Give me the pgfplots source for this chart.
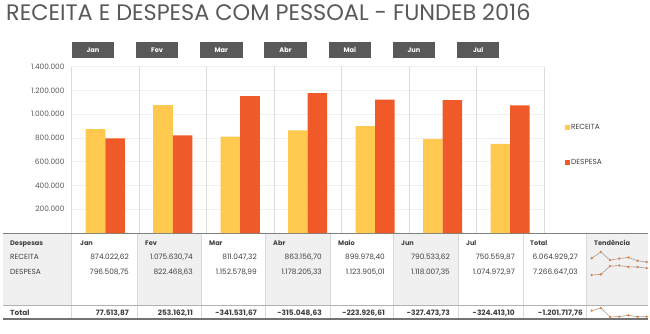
\documentclass[border=0pt]{standalone}
\usepackage{pgfplots}
\pgfplotsset{compat=1.18}
\usepackage{fontspec}
\setmainfont{Poppins}
\definecolor{rec}{HTML}{FFC94F}
\definecolor{des}{HTML}{F05A28}
\definecolor{txt}{HTML}{404040}
\definecolor{slicer}{HTML}{595959}
\definecolor{band}{HTML}{F0F0F0}
\definecolor{spk}{HTML}{ED7D31}
\begin{document}
\begin{tikzpicture}
\begin{scope}[x=1pt,y=-1pt]
\path[use as bounding box] (0,0) rectangle (650,333);
\fill[white] (0,0) rectangle (650,333);
\node[anchor=base west, inner sep=0pt, font=\fontsize{22.4}{22.4}\selectfont, text=slicer] at (6,20.7) {RECEITA E DESPESA COM PESSOAL - FUNDEB 2016};
% slicer buttons
\foreach \m [count=\i from 0] in {Jan,Fev,Mar,Abr,Mai,Jun,Jul} {
  \pgfmathsetmacro\xa{71.7+64.2*\i}
  \fill[slicer] (\xa,42) rectangle ++(42.5,16);
  \node[font=\bfseries\fontsize{6.6}{6.6}\selectfont, text=white, inner sep=0pt] at (\xa+21.25,50) {\m};
}
% table background
\fill[band] (3,233) rectangle (71,305);
\fill[band] (137,233) rectangle (201,305);
\fill[band] (265,233) rectangle (330,305);
\fill[band] (393,233) rectangle (458,305);
\fill[band] (586,233) rectangle (648,305);
\foreach \x in {71,137,201,265,330,393,458,523,586} \draw[black!15, line width=0.6pt] (\x,234) -- (\x,318);
\draw[black!30, line width=0.8pt] (3,305) -- (648,305);
\draw[black!50, line width=1.3pt] (3,233.5) -- (648,233.5);
\draw[black!55, line width=1.5pt] (3,319) -- (648,319);
% header
\begin{scope}[every node/.style={inner sep=0pt, anchor=mid west, font=\bfseries\fontsize{6.6}{6.6}\selectfont, text=txt}]
\node at (10,243) {Despesas};
\node at (80,243) {Jan};
\node at (145,243) {Fev};
\node at (209,243) {Mar};
\node at (273,243) {Abr};
\node at (338,243) {Maio};
\node at (401,243) {Jun};
\node at (466,243) {Jul};
\node at (530,243) {Total};
\node at (594,243) {Tendência};
\end{scope}
\begin{scope}[every node/.style={inner sep=0pt, anchor=mid west, font=\fontsize{7.4}{7.4}\selectfont, text=txt}]
\node at (10,257) {RECEITA};
\node at (10,271.5) {DESPESA};
\node[font=\bfseries\fontsize{7.4}{7.4}\selectfont] at (10,313) {Total};
\end{scope}
\begin{scope}[every node/.style={inner sep=0pt, anchor=mid east, font=\fontsize{7.4}{7.4}\selectfont, text=txt}]
\node at (129,257) {874.022,62};
\node at (193,257) {1.075.630,74};
\node at (257,257) {811.047,32};
\node at (322,257) {863.156,70};
\node at (385,257) {899.978,40};
\node at (450,257) {790.533,62};
\node at (515,257) {750.559,87};
\node at (578,257) {6.064.929,27};
\node at (129,271.5) {796.508,75};
\node at (193,271.5) {822.468,63};
\node at (257,271.5) {1.152.578,99};
\node at (322,271.5) {1.178.205,33};
\node at (385,271.5) {1.123.905,01};
\node at (450,271.5) {1.118.007,35};
\node at (515,271.5) {1.074.972,97};
\node at (578,271.5) {7.266.647,03};
\end{scope}
\begin{scope}[every node/.style={inner sep=0pt, anchor=mid east, font=\bfseries\fontsize{7.4}{7.4}\selectfont, text=txt}]
\node at (129,313) {77.513,87};
\node at (193,313) {253.162,11};
\node at (257,313) {-341.531,67};
\node at (322,313) {-315.048,63};
\node at (385,313) {-223.926,61};
\node at (450,313) {-327.473,73};
\node at (515,313) {-324.413,10};
\node at (583,313) {-1.201.717,76};
\end{scope}
\end{scope}

\begin{axis}[
  at={(71.5pt,-233pt)}, anchor=south west,
  scale only axis, width=472.5pt, height=166.3pt,
  ybar=0pt, bar width=19.5pt,
  xmin=-0.5, xmax=6.5, ymin=0, ymax=1400000,
  axis line style={draw=none},
  xtick=\empty,
  extra x ticks={-0.5,0.5,1.5,2.5,3.5,4.5,5.5,6.5},
  extra x tick labels={},
  extra x tick style={grid=major, major grid style={draw=black!14, line width=0.6pt}, major tick length=0pt},
  ytick={200000,400000,600000,800000,1000000,1200000,1400000},
  ymajorgrids, y grid style={draw=black!6, line width=0.6pt},
  major tick length=0pt,
  scaled y ticks=false,
  /pgf/number format/.cd, fixed, precision=0, 1000 sep={.}, assume math mode=true,
  /pgfplots/.cd,
  yticklabel style={font=\fontsize{7.4}{7.4}\selectfont, text=slicer, xshift=-3.5pt},
  legend style={at={(1.0444,0.658)}, anchor=north west, draw=none, fill=none, inner sep=0pt,
    row sep=29pt, font=\fontsize{7.4}{7.4}\selectfont, text=txt, nodes={inner xsep=0.8pt, inner ysep=0pt}},
  legend cell align=left,
]
\addplot[fill=rec, draw=none, legend image code/.code={\fill[rec] (0pt,-2.6pt) rectangle (5.2pt,2.6pt);}]
  coordinates {(0,874022.62) (1,1075630.74) (2,811047.32) (3,863156.70) (4,899978.40) (5,790533.62) (6,750559.87)};
\addplot[fill=des, draw=none, legend image code/.code={\fill[des] (0pt,-2.6pt) rectangle (5.2pt,2.6pt);}]
  coordinates {(0,796508.75) (1,822468.63) (2,1152578.99) (3,1178205.33) (4,1123905.01) (5,1118007.35) (6,1074972.97)};
\legend{RECEITA,DESPESA}
\end{axis}

\pgfplotsset{spark/.style={scale only axis, width=55pt, hide axis, xmin=0, xmax=6, clip=false},
  sparkline/.style={color=black!38, line width=0.6pt, mark=*, mark size=0.85pt, mark options={fill=spk, draw=spk}}}
\begin{axis}[spark, at={(591.7pt,-262pt)}, anchor=south west, height=10pt, ymin=750559.87, ymax=1075630.74]
\addplot[sparkline] coordinates {(0,874022.62) (1,1075630.74) (2,811047.32) (3,863156.70) (4,899978.40) (5,790533.62) (6,750559.87)};
\end{axis}
\begin{axis}[spark, at={(591.7pt,-275pt)}, anchor=south west, height=9.5pt, ymin=796508.75, ymax=1178205.33]
\addplot[sparkline] coordinates {(0,796508.75) (1,822468.63) (2,1152578.99) (3,1178205.33) (4,1123905.01) (5,1118007.35) (6,1074972.97)};
\end{axis}
\begin{axis}[spark, at={(591.7pt,-317pt)}, anchor=south west, height=9pt, ymin=-341531.67, ymax=253162.11]
\addplot[sparkline] coordinates {(0,77513.87) (1,253162.11) (2,-341531.67) (3,-315048.63) (4,-223926.61) (5,-327473.73) (6,-324413.10)};
\end{axis}
\end{tikzpicture}
\end{document}
